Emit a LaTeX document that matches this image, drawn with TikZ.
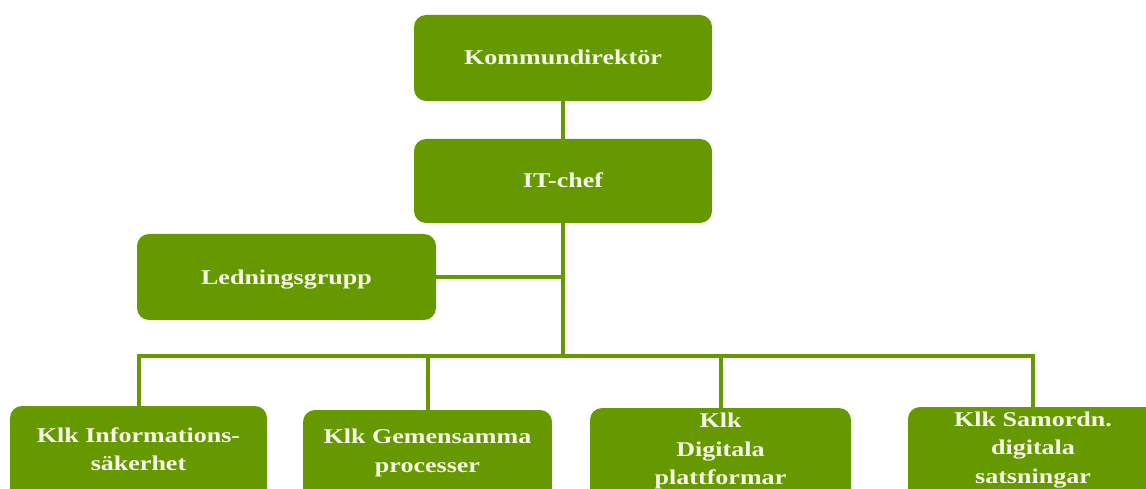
\documentclass[tikz,border=0pt]{standalone}
\usepackage{fontspec}
\usetikzlibrary{backgrounds}
\newfontfamily\boxfont{Liberation Serif}[FakeStretch=1.24]
\definecolor{orggreen}{RGB}{102,152,0}
\definecolor{boxtext}{RGB}{246,246,232}
\tikzset{
  orgbox/.style={fill=orggreen, draw=none, rounded corners=12pt, text=boxtext,
    font=\boxfont\bfseries\fontsize{21}{28.5}\selectfont, align=center, inner sep=0pt},
  onerow/.style={text height=18pt, text depth=4pt},
  orgline/.style={draw=orggreen, line width=4pt},
  boxfoot/.style={fill=orggreen, draw=none}
}
\begin{document}
\begin{tikzpicture}[x=1pt,y=-1pt]
\useasboundingbox (0,0) rectangle (1146,489);
\clip (0,0) rectangle (1146,489);
\node[orgbox, onerow, minimum width=298pt, minimum height=86pt] (kd) at (563,58) {Kommundirektör};
\node[orgbox, onerow, minimum width=298pt, minimum height=84pt] (it) at (563,181) {IT-chef};
\node[orgbox, onerow, minimum width=299pt, minimum height=86pt] (lg) at (286.5,277) {Ledningsgrupp};
\node[orgbox, minimum width=257pt, minimum height=86pt] (b1) at (138.5,449) {Klk Informations-\\säkerhet};
\node[orgbox, minimum width=249pt, minimum height=86pt] (b2) at (427.5,453) {Klk Gemensamma\\processer};
\node[orgbox, minimum width=261pt, minimum height=86pt] (b3) at (720.5,451) {Klk\\Digitala\\plattformar};
\node[orgbox, minimum width=250pt, minimum height=86pt] (b4) at (1033,450) {Klk Samordn.\\digitala\\satsningar};
\begin{pgfonlayer}{background}
  \foreach \b in {b1,b2,b3,b4}
    \fill[boxfoot] (\b.west) rectangle ([yshift=-30pt]\b.south east);
\end{pgfonlayer}
\coordinate (bus) at (563,356);
\draw[orgline] (kd.south) -- (it.north);
\draw[orgline] (it.south) -- (bus);
\draw[orgline] (lg.east) -- (lg.east -| it.south);
\draw[orgline] (b1.north) -- (b1.north |- bus) -- (b4.north |- bus) -- (b4.north);
\draw[orgline] (b2.north) -- (b2.north |- bus);
\draw[orgline] (b3.north) -- (b3.north |- bus);
\end{tikzpicture}
\end{document}
